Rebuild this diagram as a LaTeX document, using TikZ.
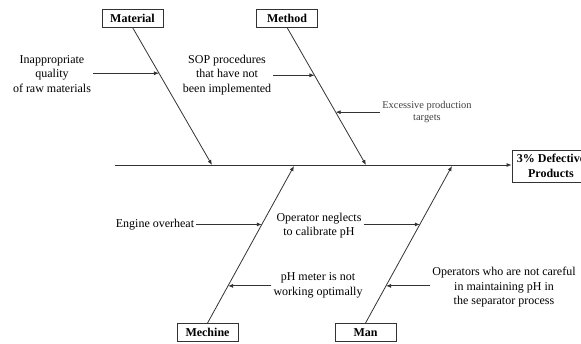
\documentclass[tikz,border=0pt]{standalone}
\usepackage{fontspec}
\setmainfont{Liberation Serif}
\usetikzlibrary{arrows.meta,calc}
\begin{document}
\begin{tikzpicture}[x=1pt,y=-1pt,
  bone/.style={draw=black!80,line width=0.8pt},
  arr/.style={draw=black!80,line width=0.8pt,-{Latex[length=5pt,width=4pt]}},
  catbox/.style={draw=black!80,line width=0.8pt,minimum width=61pt,minimum height=18pt,inner sep=0pt,font=\bfseries\fontsize{12}{14}\selectfont},
  cause/.style={align=center,inner sep=2pt,font=\fontsize{12}{14.5}\selectfont},
  small/.style={align=center,inner sep=2pt,text=black!75,font=\fontsize{10.4}{12}\selectfont}]
\useasboundingbox (0,0) rectangle (581,343);
\begin{scope}
\clip (0,0) rectangle (581,343);
% effect box
\node[draw=black!80,line width=0.8pt,minimum width=78pt,minimum height=32pt,inner sep=0pt,align=center,font=\bfseries\fontsize{12}{14.5}\selectfont] (eff) at (551,166) {3\% Defective\\Products};
\end{scope}
% spine
\coordinate (tail) at (115,165);
\draw[arr] (tail) -- (tail -| eff.west);
% category boxes
\node[catbox] (mat) at (132.5,18) {Material};
\node[catbox] (met) at (287,18) {Method};
\node[catbox] (mec) at (207.5,332.5) {Mechine};
\node[catbox] (man) at (365.5,332.5) {Man};
% bone ends on spine
\coordinate (matE) at (212,165);
\coordinate (metE) at (366,165);
\coordinate (mecE) at (294,166);
\coordinate (manE) at (452,166);
\draw[arr] (mat.south) -- (matE);
\draw[arr] (met.south) -- (metE);
\draw[arr] (mec.north) -- (mecE);
\draw[arr] (man.north) -- (manE);
% points on bones
\coordinate (p1) at ($(mat.south)!0.333!(matE)$);
\coordinate (p2) at ($(met.south)!0.348!(metE)$);
\coordinate (p3) at ($(met.south)!0.616!(metE)$);
\coordinate (p4) at ($(mec.north)!0.628!(mecE)$);
\coordinate (p5) at ($(mec.north)!0.237!(mecE)$);
\coordinate (p6) at ($(man.north)!0.628!(manE)$);
\coordinate (p7) at ($(man.north)!0.237!(manE)$);
% causes
\node[cause] (c1) at (52,74) {Inappropriate\\quality\\of raw materials};
\node[cause] (c2) at (227,75) {SOP procedures\\that have not\\been implemented};
\node[small] (c3) at (427,112) {Excessive production\\targets};
\node[cause] (c4) at (155,225) {Engine overheat};
\node[cause] (c5) at (319,225.5) {Operator neglects\\to calibrate pH};
\node[cause] (c6) at (318,285.5) {pH meter is not\\working optimally};
\node[cause] (c7) at (504,287.5) {Operators who are not careful\\in maintaining pH in\\the separator process};
\draw[arr] (c1.east |- p1) -- (p1);
\draw[arr] (c2.east |- p2) -- (p2);
\draw[arr] (c3.west |- p3) -- (p3);
\draw[arr] (c4.east |- p4) -- (p4);
\draw[arr] (c5.east |- p6) -- (p6);
\draw[arr] (c6.west |- p5) -- (p5);
\draw[arr] (c7.west |- p7) -- (p7);
\end{tikzpicture}
\end{document}
